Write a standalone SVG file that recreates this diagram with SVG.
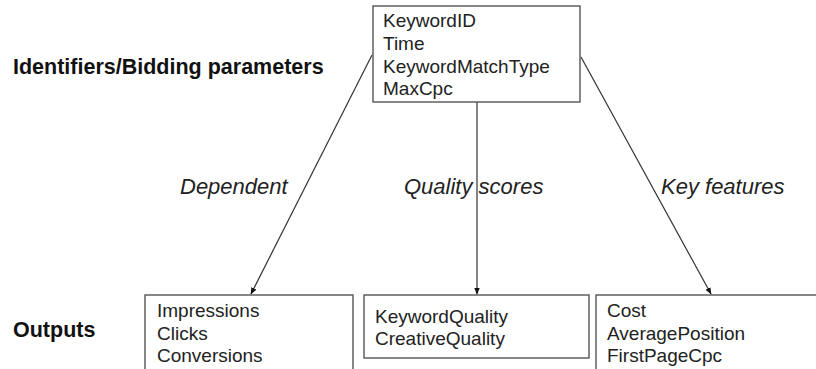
<svg xmlns="http://www.w3.org/2000/svg" width="816" height="369" viewBox="0 0 816 369">
<style>
.box{fill:#fff;stroke:#555;stroke-width:1.4}
.t{font-family:"Liberation Sans",Arial,sans-serif;font-size:19px;fill:#222}
.h{font-family:"Liberation Sans",Arial,sans-serif;font-size:21.5px;font-weight:bold;fill:#111}
.l{font-family:"Liberation Sans",Arial,sans-serif;font-size:22px;font-style:italic;fill:#222}
.c{stroke:#333;stroke-width:1.2;fill:none}
</style>
<defs>
<marker id="arr" viewBox="0 0 10 10" refX="9" refY="5" markerWidth="7" markerHeight="7" orient="auto" markerUnits="userSpaceOnUse">
<path d="M0,1 L10,5 L0,9 z" fill="#111"/>
</marker>
</defs>
<text class="h" x="13" y="74">Identifiers/Bidding parameters</text>
<text class="h" x="13" y="337">Outputs</text>
<g id="connectors">
<line class="c" x1="372" y1="55" x2="251" y2="294" marker-end="url(#arr)"/>
<line class="c" x1="477" y1="102" x2="477" y2="294" marker-end="url(#arr)"/>
<line class="c" x1="581" y1="57" x2="711" y2="294" marker-end="url(#arr)"/>
<text class="l" x="180" y="194">Dependent</text>
<text class="l" x="404" y="194">Quality scores</text>
<text class="l" x="661" y="194">Key features</text>
</g>
<g id="top">
<rect class="box" x="373" y="6" width="207" height="96"/>
<text class="t" x="383" y="27">KeywordID</text>
<text class="t" x="383" y="50">Time</text>
<text class="t" x="383" y="73">KeywordMatchType</text>
<text class="t" x="383" y="95">MaxCpc</text>
</g>
<g id="dependent">
<rect class="box" x="145" y="295" width="208" height="90"/>
<text class="t" x="157" y="317">Impressions</text>
<text class="t" x="157" y="340">Clicks</text>
<text class="t" x="157" y="362">Conversions</text>
</g>
<g id="quality">
<rect class="box" x="364" y="295" width="225" height="63"/>
<text class="t" x="375" y="323">KeywordQuality</text>
<text class="t" x="375" y="345">CreativeQuality</text>
</g>
<g id="features">
<rect class="box" x="596" y="295" width="240" height="90"/>
<text class="t" x="607" y="317">Cost</text>
<text class="t" x="607" y="340">AveragePosition</text>
<text class="t" x="607" y="362">FirstPageCpc</text>
</g>
</svg>
